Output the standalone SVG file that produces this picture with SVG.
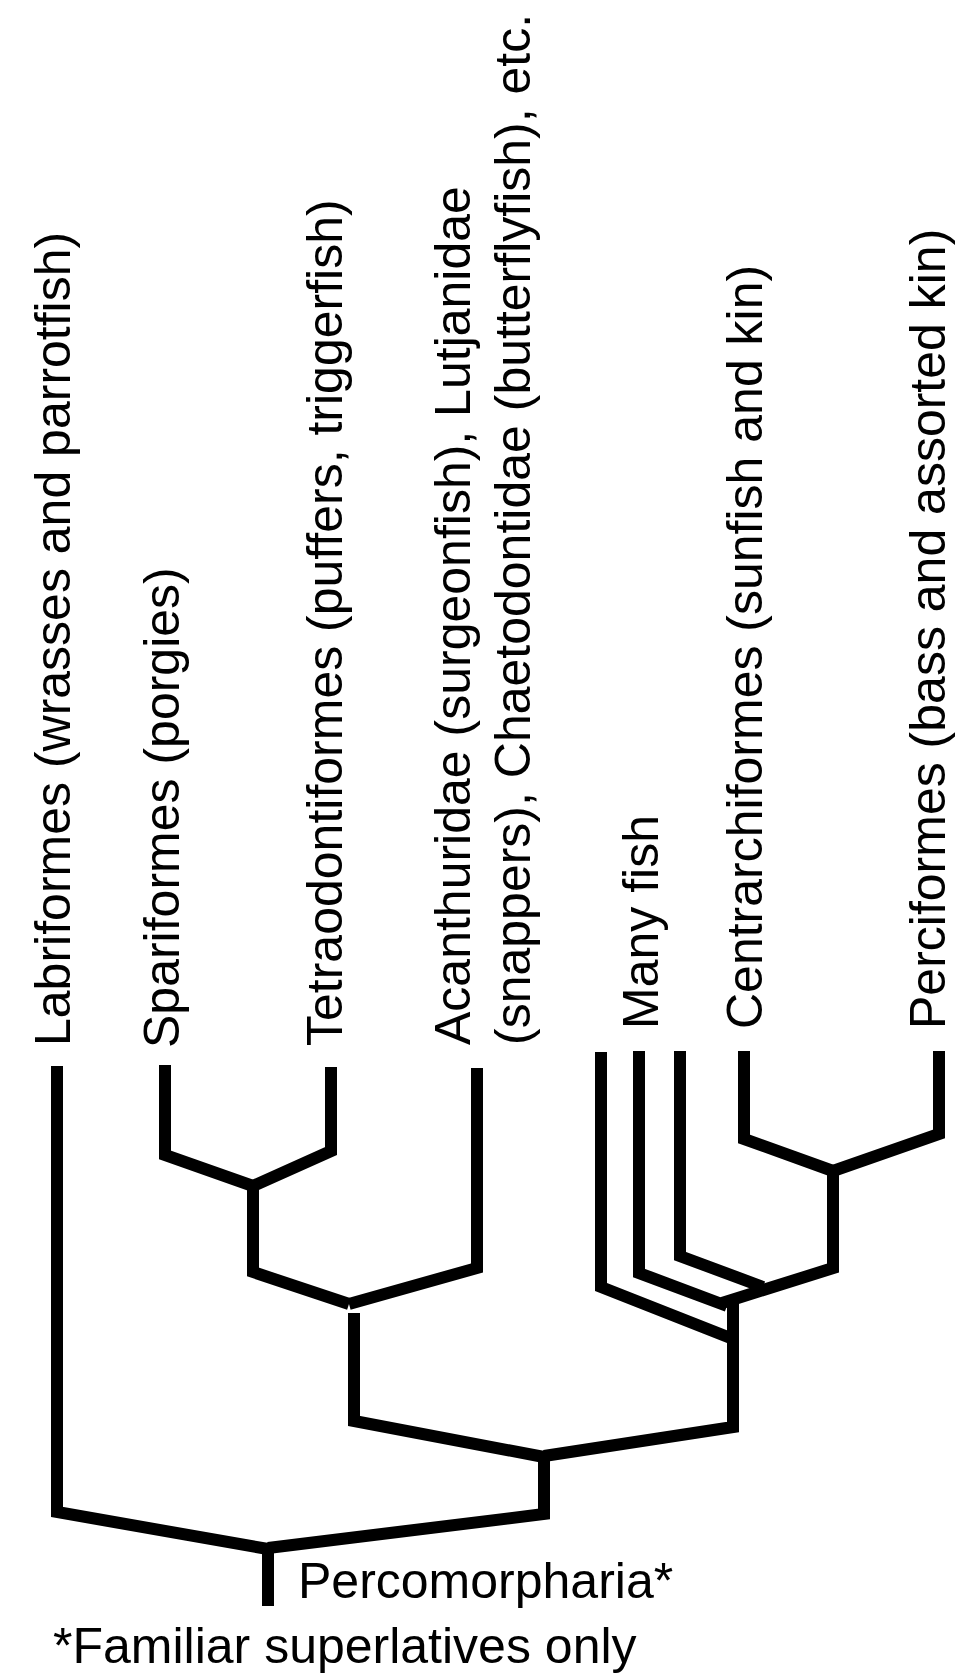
<svg xmlns="http://www.w3.org/2000/svg" width="966" height="1677" viewBox="0 0 966 1677">
<style>
.lbl{font-family:"Liberation Sans",Arial,sans-serif;font-size:50px;fill:#000}
.br{fill:none;stroke:#000;stroke-width:12;stroke-linecap:butt;stroke-linejoin:miter}
</style>
<rect x="0" y="0" width="966" height="1677" fill="#fff"/>
<g id="connectors">
<polyline class="br" points="165,1065 165,1155 253,1186"/>
<polyline class="br" points="331,1067 331,1151 253,1186"/>
<polyline class="br" points="253,1184 253,1272 349,1304"/>
<polyline class="br" points="477,1068 477,1268 349,1304"/>
<polyline class="br" points="354,1313 354,1421 544,1457"/>
<polyline class="br" points="601,1052 601,1287 733,1339"/>
<polyline class="br" points="639,1051 639,1273 727,1306"/>
<polyline class="br" points="680,1051 680,1256 763,1287"/>
<polyline class="br" points="744,1051 744,1139 833,1171"/>
<polyline class="br" points="939,1051 939,1134 833,1171"/>
<polyline class="br" points="833,1169 833,1268 722,1303"/>
<polyline class="br" points="733,1302 733,1427 544,1456"/>
<polyline class="br" points="544,1455 544,1514 268,1548"/>
<polyline class="br" points="57,1066 57,1512 268,1549"/>
<line class="br" x1="268" y1="1546" x2="268" y2="1606"/>
</g>
<g id="labriformes"><text class="lbl" transform="translate(70,1046) rotate(-90)">Labriformes (wrasses and parrotfish)</text></g>
<g id="spariformes"><text class="lbl" transform="translate(179,1048) rotate(-90)">Spariformes (porgies)</text></g>
<g id="tetraodontiformes"><text class="lbl" transform="translate(342,1046) rotate(-90)">Tetraodontiformes (puffers, triggerfish)</text></g>
<g id="acanthuridae"><text class="lbl" transform="translate(470,1045) rotate(-90)"><tspan x="0" y="0">Acanthuridae (surgeonfish), Lutjanidae</tspan><tspan x="0" y="60">(snappers), Chaetodontidae (butterflyfish), etc.</tspan></text></g>
<g id="many-fish"><text class="lbl" transform="translate(658,1029) rotate(-90)">Many fish</text></g>
<g id="centrarchiformes"><text class="lbl" transform="translate(762,1029) rotate(-90)">Centrarchiformes (sunfish and kin)</text></g>
<g id="perciformes"><text class="lbl" transform="translate(945,1029) rotate(-90)">Perciformes (bass and assorted kin)</text></g>
<g id="percomorpharia"><text class="lbl" x="298" y="1598">Percomorpharia*</text></g>
<g id="footnote"><text class="lbl" x="53" y="1663">*Familiar superlatives only</text></g>
</svg>
